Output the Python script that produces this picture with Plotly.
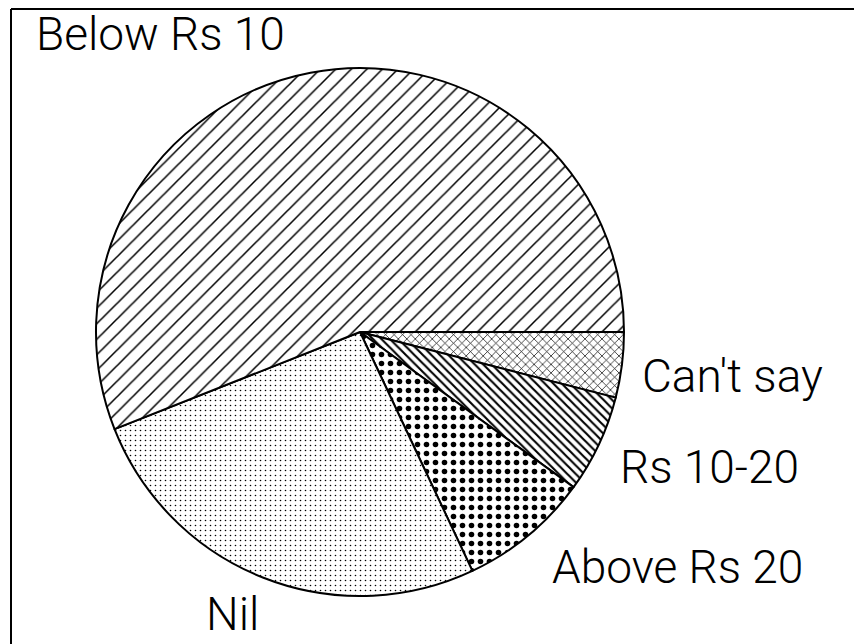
import plotly.graph_objects as go

# slices listed clockwise starting at 3 o'clock
labels = ["Can't say", "Rs 10-20", "Above Rs 20", "Nil", "Below Rs 10"]
values = [4, 6, 8, 26, 56]
shapes_pat = ["x", "\\", ".", ".", "/"]
pat_size = [6, 6, 9, 5, 11]
pat_solid = [0.22, 0.35, 0.3, 0.08, 0.14]

# the page body adds an 8px offset; coordinates below are page pixels
OFF = 8
label_px = {
    "Below Rs 10": (34, 34),
    "Nil": (204, 614),
    "Above Rs 20": (550, 567),
    "Rs 10-20": (618, 467),
    "Can't say": (640, 376),
}

W, H = 862 - OFF, 644 - OFF
cx, cy, r = 360 - OFF, 332 - OFF, 264

fig = go.Figure(go.Pie(
    labels=labels,
    values=values,
    sort=False,
    direction="clockwise",
    rotation=90,
    textinfo="none",
    hoverinfo="label+value",
    showlegend=False,
    marker=dict(
        colors=["white"] * len(labels),
        line=dict(color="black", width=2),
        pattern=dict(shape=shapes_pat, size=pat_size, solidity=pat_solid,
                     fgcolor="black", bgcolor="white", fgopacity=1, fillmode="overlay"),
    ),
    domain=dict(x=[(cx - r) / W, (cx + r) / W], y=[1 - (cy + r) / H, 1 - (cy - r) / H]),
))

anns = []
for lab in labels:
    px, py = label_px[lab]
    anns.append(dict(text=lab, x=(px - OFF) / W, y=1 - (py - OFF) / H, xref="paper", yref="paper",
                     xanchor="left", yanchor="middle", showarrow=False,
                     font=dict(family="Roboto, Liberation Sans, Arial, sans-serif", size=46,
                               color="black", weight=300)))

fx, fy = (11 - OFF) / W, 1 - (9 - OFF) / H
fig.update_layout(
    width=W, height=H,
    margin=dict(l=0, r=0, t=0, b=0),
    paper_bgcolor="white", plot_bgcolor="white",
    annotations=anns,
    shapes=[
        dict(type="line", xref="paper", yref="paper", x0=fx, x1=1, y0=fy, y1=fy,
             line=dict(color="black", width=2)),
        dict(type="line", xref="paper", yref="paper", x0=fx, x1=fx, y0=0, y1=fy,
             line=dict(color="black", width=2)),
    ],
)

fig.write_html("out.html")
